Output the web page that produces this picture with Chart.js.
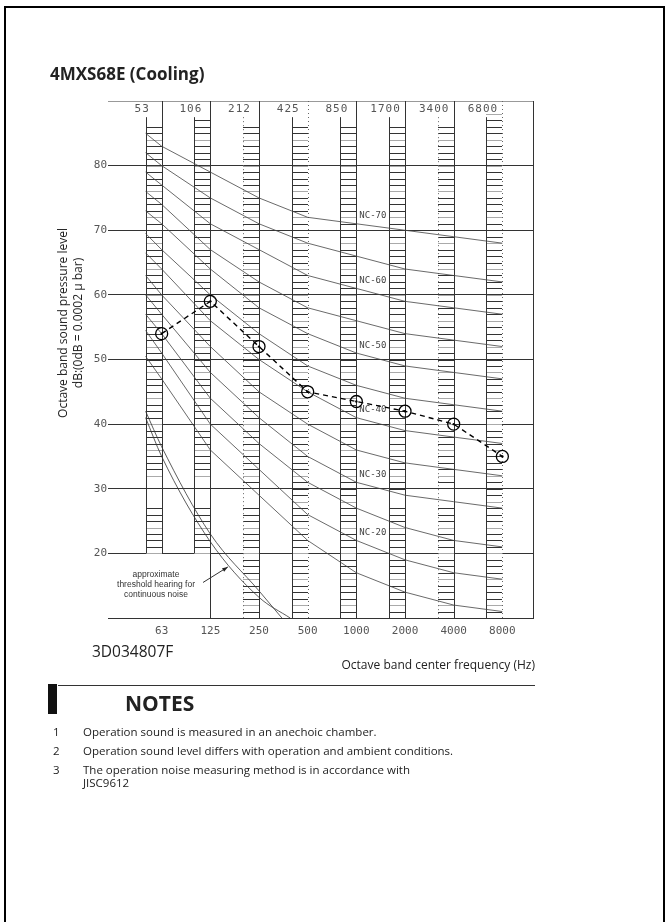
<!DOCTYPE html>
<html lang="en">
<head>
  <meta charset="UTF-8">
  <title>4MXS68E (Cooling)</title>
  <script src="https://cdn.jsdelivr.net/npm/chart.js"></script>
  <style>
    body {
      margin: 0;
      width: 668px;
      height: 922px;
      position: relative;
      overflow: hidden;
      background: #fff;
      font-family: "Open Sans", sans-serif;
      color: #222;
    }
    .frame {
      position: absolute;
      left: 4px; top: 6px;
      width: 657px; height: 940px;
      border: 2px solid #000;
    }
    #nc { position: absolute; left: 0; top: 0; }
    .title { position: absolute; left: 50px; top: 63px; font-size: 17px; font-weight: bold; line-height: 22px; }
    .ytitle {
      position: absolute;
      left: -40px; top: 308px;
      width: 220px; height: 30px;
      font-size: 12px; line-height: 15px;
      text-align: center;
      transform: rotate(-90deg);
      white-space: nowrap;
    }
    .code { position: absolute; left: 92px; top: 641px; font-size: 15.5px; line-height: 20px; }
    .xtitle { position: absolute; right: 133px; top: 657px; font-size: 12px; line-height: 16px; }
    .rule { position: absolute; left: 58px; top: 685px; width: 477px; height: 1px; background: #333; }
    .bar { position: absolute; left: 48px; top: 684px; width: 9px; height: 30px; background: #111; }
    .notes-h { position: absolute; left: 125px; top: 690px; font-size: 21px; font-weight: bold; line-height: 26px; }
    .note { position: absolute; left: 53px; font-size: 11.5px; line-height: 13px; }
    .note span { position: absolute; left: 30px; white-space: nowrap; }
    .thr {
      position: absolute; left: 106px; top: 569px; width: 100px;
      font-family: "Liberation Sans Narrow", "Liberation Sans", sans-serif;
      font-size: 8.5px; line-height: 10px; text-align: center; color: #333;
    }
  </style>
</head>
<body>
  <div class="frame"></div>
  <canvas id="nc" width="668" height="922"></canvas>

  <div class="title">4MXS68E (Cooling)</div>
  <div class="ytitle">Octave band sound pressure level<br>dB:(0dB = 0.0002 μ bar)</div>
  <div class="thr">approximate<br>threshold hearing for<br>continuous noise</div>
  <div class="code">3D034807F</div>
  <div class="xtitle">Octave band center frequency (Hz)</div>

  <div class="bar"></div>
  <div class="rule"></div>
  <div class="notes-h">NOTES</div>
  <div class="note" style="top:725px">1<span>Operation sound is measured in an anechoic chamber.</span></div>
  <div class="note" style="top:744px">2<span>Operation sound level differs with operation and ambient conditions.</span></div>
  <div class="note" style="top:763px">3<span>The operation noise measuring method is in accordance with<br>JISC9612</span></div>

  <script>
    // octave bands (x = octave index, 63 Hz = 0)
    const freqLabels = ['63', '125', '250', '500', '1000', '2000', '4000', '8000'];
    const topLabels = ['53', '106', '212', '425', '850', '1700', '3400', '6800'];
    const bandIdx = [0, 1, 2, 3, 4, 5, 6, 7];

    // measured sound pressure level, dB
    const measured = [54, 59, 52, 45, 43.5, 42, 40, 35];

    // NC curves: first value is where the curve starts, at the left of the 63 Hz strip
    const ncNames = ['NC-70', 'NC-65', 'NC-60', 'NC-55', 'NC-50', 'NC-45', 'NC-40', 'NC-35', 'NC-30', 'NC-25', 'NC-20', 'NC-15'];
    const ncStart = [85, 82, 79, 76, 73, 69.5, 66.5, 63, 60, 57, 54.5, 50.5];
    const nc70 = [83, 79, 75, 72, 71, 70, 69, 68];
    const nc65 = [80, 75, 71, 68, 66, 64, 63, 62];
    const nc60 = [77, 71, 67, 63, 61, 59, 58, 57];
    const nc55 = [74, 67, 62, 58, 56, 54, 53, 52];
    const nc50 = [71, 64, 58, 54, 51, 49, 48, 47];
    const nc45 = [67, 60, 54, 49, 46, 44, 43, 42];
    const nc40 = [64, 56, 50, 45, 41, 39, 38, 37];
    const nc35 = [60, 52, 45, 40, 36, 34, 33, 32];
    const nc30 = [57, 48, 41, 35, 31, 29, 28, 27];
    const nc25 = [54, 44, 37, 31, 27, 24, 22, 21];
    const nc20 = [51, 40, 33, 26, 22, 19, 17, 16];
    const nc15 = [47, 36, 29, 22, 17, 14, 12, 11];
    const ncCurves = [nc70, nc65, nc60, nc55, nc50, nc45, nc40, nc35, nc30, nc25, nc20, nc15];
    const ncLabelled = ['NC-70', 'NC-60', 'NC-50', 'NC-40', 'NC-30', 'NC-20'];

    // threshold of hearing (two lines)
    const thrAx = [-0.33, 0, 1, 2, 2.47];
    const thrAy = [42, 36.5, 23, 14.2, 10];
    const thrBx = [-0.33, 0, 1, 2, 2.64];
    const thrBy = [41, 35, 21.8, 13.2, 10];
    const thrArrowX = [0.85, 1.36];
    const thrArrowY = [15.5, 17.9];

    // hatched strip extents per band, dB
    const hatchTop = [86, 87, 86, 86, 86, 86, 86, 88];
    const hatchBottom = [20, 20, 11, 11, 11, 11, 11, 11];
    const hatchGapHi = [32, 32, 31, null, null, 30, 31, null];
    const hatchGapLo = [27, 27, 27, null, null, 27, 27, null];

    const STRIP = 0.33;
    const leftDotted = [false, false, true, false, false, false, true, false];
    const centerDotted = [false, false, false, true, false, false, false, true];

    const bandsPlugin = {
      id: 'bands',
      beforeDatasetsDraw(chart) {
        const { ctx, scales: { x, y } } = chart;
        ctx.save();
        ctx.lineWidth = 1;

        const vline = (px, y0, y1, dotted) => {
          ctx.beginPath();
          ctx.strokeStyle = dotted ? '#666' : '#333';
          ctx.setLineDash(dotted ? [1, 3] : []);
          ctx.moveTo(Math.round(px) + 0.5, y0);
          ctx.lineTo(Math.round(px) + 0.5, y1);
          ctx.stroke();
        };

        bandIdx.forEach(i => {
          const xl = x.getPixelForValue(i - STRIP);
          const xr = x.getPixelForValue(i);
          // hatches, one per dB
          ctx.setLineDash([]);
          for (let d = hatchTop[i]; d >= hatchBottom[i]; d--) {
            if (hatchGapHi[i] !== null && d < hatchGapHi[i] && d > hatchGapLo[i]) continue;
            const py = Math.round(y.getPixelForValue(d)) + 0.5;
            ctx.beginPath();
            ctx.strokeStyle = (d % 4 === 0) ? '#aaa' : '#333';
            ctx.moveTo(Math.round(xl), py);
            ctx.lineTo(Math.round(xr), py);
            ctx.stroke();
          }
          const stripTop = y.getPixelForValue(87.5);
          const lowEnd = i === 0 ? y.getPixelForValue(20) : y.getPixelForValue(10);
          vline(xl, stripTop, i <= 1 ? y.getPixelForValue(20) : y.getPixelForValue(10), leftDotted[i]);
          vline(xr, y.getPixelForValue(90), lowEnd, centerDotted[i]);
        });

        // right border
        vline(x.getPixelForValue(x.max) - 1, y.getPixelForValue(90), y.getPixelForValue(10), false);

        // header labels
        ctx.setLineDash([]);
        ctx.fillStyle = '#555';
        ctx.font = '11px "DejaVu Sans Mono"';
        ctx.letterSpacing = '1px';
        ctx.textAlign = 'center';
        ctx.textBaseline = 'middle';
        bandIdx.forEach(i => {
          ctx.fillText(topLabels[i], x.getPixelForValue(i - 0.4), y.getPixelForValue(90) + 8);
        });

        // NC labels beside the 1000 Hz line
        ctx.font = '9px "DejaVu Sans Mono"';
        ctx.letterSpacing = '0px';
        ctx.textAlign = 'left';
        ctx.fillStyle = '#444';
        ncNames.forEach((n, k) => {
          if (!ncLabelled.includes(n)) return;
          ctx.fillText(n, x.getPixelForValue(4) + 3, y.getPixelForValue(ncCurves[k][4] + 1.2));
        });

        // arrow to threshold lines
        const ax0 = x.getPixelForValue(thrArrowX[0]), ay0 = y.getPixelForValue(thrArrowY[0]);
        const ax1 = x.getPixelForValue(thrArrowX[1]), ay1 = y.getPixelForValue(thrArrowY[1]);
        ctx.strokeStyle = '#333';
        ctx.beginPath();
        ctx.moveTo(ax0, ay0);
        ctx.lineTo(ax1, ay1);
        ctx.stroke();
        const ang = Math.atan2(ay1 - ay0, ax1 - ax0);
        ctx.fillStyle = '#222';
        ctx.beginPath();
        ctx.moveTo(ax1, ay1);
        ctx.lineTo(ax1 - 6 * Math.cos(ang - 0.35), ay1 - 6 * Math.sin(ang - 0.35));
        ctx.lineTo(ax1 - 6 * Math.cos(ang + 0.35), ay1 - 6 * Math.sin(ang + 0.35));
        ctx.closePath();
        ctx.fill();
        ctx.restore();
      }
    };

    const ncSets = ncCurves.map((vals, k) => ({
      label: ncNames[k],
      data: [{ x: -STRIP, y: ncStart[k] }].concat(vals.map((v, i) => ({ x: bandIdx[i], y: v }))),
      borderColor: '#444',
      borderWidth: 0.8,
      pointRadius: 0,
      tension: 0,
      order: 2
    }));

    const thrSet = (xs, ys) => ({
      label: 'threshold',
      data: xs.map((v, i) => ({ x: v, y: ys[i] })),
      borderColor: '#333',
      borderWidth: 0.8,
      pointRadius: 0,
      cubicInterpolationMode: 'monotone',
      order: 2
    });

    new Chart(document.getElementById('nc'), {
      type: 'line',
      data: {
        datasets: [
          {
            label: 'measured',
            data: measured.map((v, i) => ({ x: bandIdx[i], y: v })),
            borderColor: '#000',
            borderWidth: 1.4,
            borderDash: [5, 4],
            pointRadius: 6,
            pointBorderWidth: 1.3,
            pointBorderColor: '#000',
            pointBackgroundColor: 'rgba(0,0,0,0)',
            order: 0
          },
          {
            label: 'dot',
            data: measured.map((v, i) => ({ x: bandIdx[i], y: v })),
            showLine: false,
            pointRadius: 1.2,
            pointBorderWidth: 0,
            pointBackgroundColor: '#000',
            order: 0
          },
          ...ncSets,
          thrSet(thrAx, thrAy),
          thrSet(thrBx, thrBy)
        ]
      },
      options: {
        responsive: false,
        animation: false,
        layout: { padding: { left: 73, top: 101, right: 134, bottom: 274 } },
        plugins: { legend: { display: false }, tooltip: { enabled: false } },
        scales: {
          x: {
            type: 'linear',
            min: -1,
            max: 7.65,
            afterFit: s => { s.height = 30; },
            afterBuildTicks: s => { s.ticks = bandIdx.map(v => ({ value: v })); },
            grid: { display: false, drawTicks: false },
            border: { display: false },
            ticks: {
              padding: 7,
              autoSkip: false,
              maxRotation: 0,
              color: '#555',
              font: { family: 'DejaVu Sans Mono', size: 11 },
              callback: v => freqLabels[Math.round(v)]
            }
          },
          y: {
            min: 10,
            max: 90,
            afterFit: s => { s.width = 40; },
            border: { display: false },
            grid: {
              color: c => (c.tick && c.tick.value === 90) ? '#999' : '#333',
              lineWidth: 1,
              tickLength: 5
            },
            ticks: {
              stepSize: 10,
              padding: 1,
              color: '#555',
              font: { family: 'DejaVu Sans Mono', size: 11 },
              callback: v => (v === 10 || v === 90) ? '' : String(v)
            }
          }
        }
      },
      plugins: [bandsPlugin]
    });
  </script>
</body>
</html>
